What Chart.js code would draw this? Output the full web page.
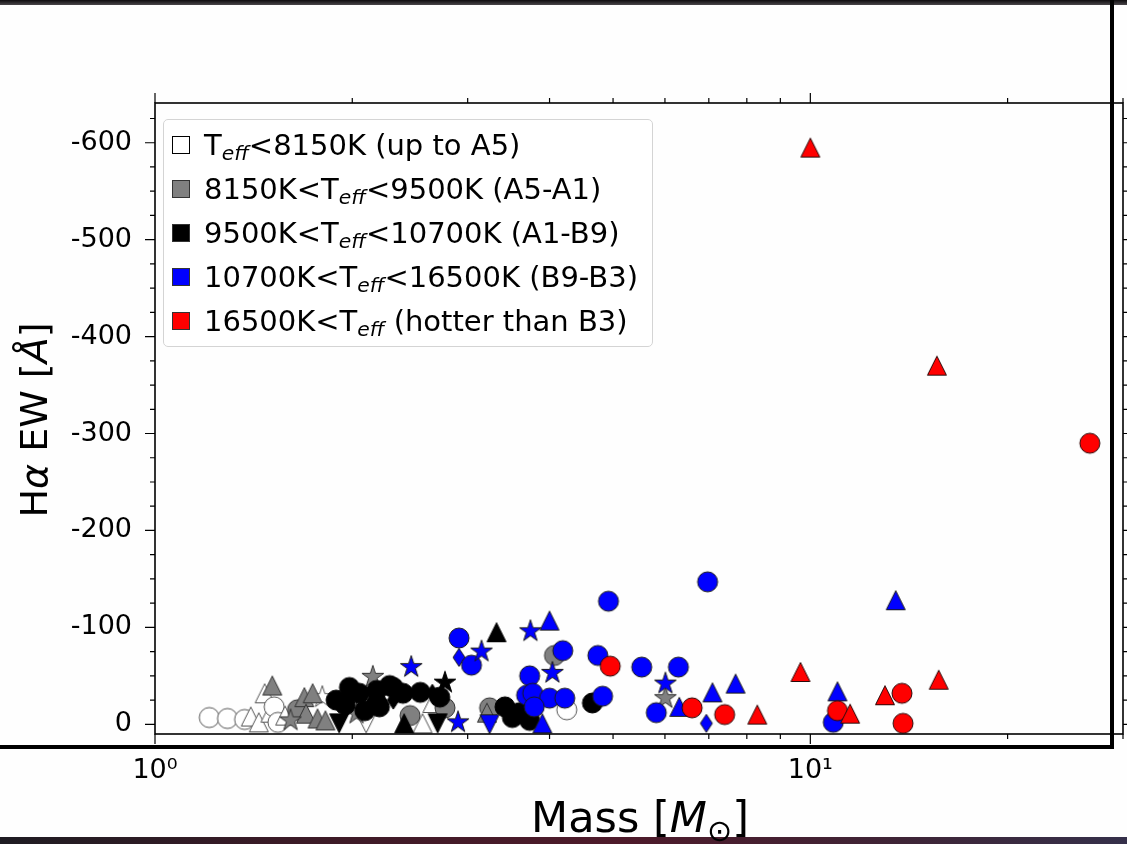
<!DOCTYPE html>
<html>
<head>
<meta charset="utf-8">
<title>H-alpha EW vs mass</title>
<style>
  body { margin: 0; background: #fff; }
  #wrap { position: relative; width: 1127px; height: 844px; overflow: hidden; font-family: 'DejaVu Sans', sans-serif; color: #000; }
  #chart { position: absolute; left: 0; top: 0; }
  #legend { position: absolute; left: 163px; top: 119px; width: 488px; height: 226px;
            border: 1px solid #d4d4d4; border-radius: 5px; background: rgba(255,255,255,0.85); }
  .row { position: absolute; left: 8px; height: 30px; display: flex; align-items: center;
         font-size: 29px; white-space: nowrap; }
  .sq { width: 16px; height: 16px; border: 1px solid #000; margin-right: 14px; flex: none; }
  .row sub { font-size: 0.7em; font-style: italic; vertical-align: -0.25em; line-height: 0; }
  #xtitle { position: absolute; left: 390px; width: 500px; top: 795px; height: 44px; line-height: 44px;
            font-size: 43px; text-align: center; white-space: nowrap; }
  #xtitle sub { font-size: 0.7em; vertical-align: -0.3em; line-height: 0; }
  #ytitle { position: absolute; left: -116px; top: 398px; width: 300px; height: 44px; line-height: 44px;
            font-size: 38px; text-align: center; white-space: nowrap; transform: rotate(-90deg); }
</style>
</head>
<body>
<div id="wrap">
  <canvas id="chart" width="1127" height="844"></canvas>
  <div id="legend"></div>
  <div id="xtitle">Mass [<i>M</i><sub>⊙</sub>]</div>
  <div id="ytitle">H<i>α</i> EW [<i>Å</i>]</div>
</div>

<script src="https://cdn.jsdelivr.net/npm/chart.js"></script>
<script>
  // temperature classes (legend order)
  const classLabels = [
    'T<sub>eff</sub>&lt;8150K (up to A5)',
    '8150K&lt;T<sub>eff</sub>&lt;9500K (A5-A1)',
    '9500K&lt;T<sub>eff</sub>&lt;10700K (A1-B9)',
    '10700K&lt;T<sub>eff</sub>&lt;16500K (B9-B3)',
    '16500K&lt;T<sub>eff</sub> (hotter than B3)'
  ];
  const classColors = ['#ffffff', '#808080', '#000000', '#0000ff', '#ff0000'];
  const classEdges  = ['#555555', '#333333', '#000000', '#1a1a1a', '#2a0a0a'];

  // [mass, EW, marker]   markers: o circle, ^ up, v down, * star, d thin diamond
  const coolStars = [
    [1.21, -7, 'o'], [1.29, -6, 'o'], [1.37, -5, 'o'], [1.40, -8, '^'], [1.44, -2, '^'],
    [1.47, -32, '^'], [1.50, -12, '^'], [1.52, -18, 'o'], [1.54, -2, 'o'], [1.58, -9, '^'],
    [1.80, -28, '*'], [2.10, -1, 'v'], [2.56, -1, '^'], [2.65, -22, '^'], [4.25, -15, 'o']
  ];
  const lateAStars = [
    [1.51, -40, '^'], [1.65, -15, 'o'], [1.69, -28, '^'], [1.74, -32, '^'], [1.70, -11, '^'],
    [1.77, -6, '^'], [1.82, -4, '^'], [1.61, -4, '*'], [2.03, -11, '*'], [2.15, -49, '*'],
    [2.45, -9, 'o'], [2.77, -17, 'o'], [3.24, -17, 'o'], [3.21, -12, '^'], [4.07, -71, 'o'],
    [6.01, -27, '*']
  ];
  const earlyAStars = [
    [3.32, -95, '^'], [2.77, -43, '*'], [4.65, -22, 'o'], [1.98, -38, 'o'], [2.05, -32, 'o'],
    [2.18, -22, 'o'], [2.31, -38, 'o'], [2.39, -32, 'o'], [2.54, -33, 'o'], [2.28, -40, 'o'],
    [2.20, -18, 'o'], [1.95, -20, 'o'], [2.09, -14, 'o'], [1.89, -25, 'o'], [2.18, -35, 'o'],
    [1.91, -1, 'v'], [2.31, -25, 'd'], [2.65, -32, 'd'], [2.72, -28, 'o'], [2.40, -1, '^'],
    [2.70, -1, 'v'], [3.42, -18, 'o'], [3.51, -7, 'o'], [3.60, -12, 'o'], [3.73, -4, 'o']
  ];
  const lateBStars = [
    [6.97, -147, 'o'], [13.5, -128, '^'], [4.92, -127, 'o'], [4.00, -107, '^'], [3.74, -96, '*'],
    [2.91, -89, 'o'], [2.91, -69, 'd'], [3.04, -61, 'o'], [3.15, -75, '*'], [4.19, -76, 'o'],
    [4.74, -71, 'o'], [5.53, -59, 'o'], [6.29, -59, 'o'], [2.46, -59, '*'], [4.04, -53, '*'],
    [3.73, -50, 'o'], [3.69, -30, 'o'], [3.77, -32, 'o'], [4.00, -27, 'o'], [4.22, -27, 'o'],
    [3.79, -18, 'o'], [4.82, -29, 'o'], [6.01, -42, '*'], [5.82, -12, 'o'], [6.31, -18, '^'],
    [7.09, -33, '^'], [7.69, -42, '^'], [6.94, -1, 'd'], [2.90, -2, '*'], [3.24, 0, 'v'],
    [3.90, -1, '^'], [11.0, -34, '^'], [10.84, -2, 'o']
  ];
  const hotStars = [
    [10.0, -595, '^'], [15.6, -370, '^'], [26.7, -290, 'o'], [9.66, -54, '^'], [15.7, -46, '^'],
    [13.8, -32, 'o'], [13.0, -30, '^'], [11.0, -14, 'o'], [11.5, -11, '^'], [13.85, -1, 'o'],
    [8.3, -10, '^'], [4.95, -60, 'o'], [6.6, -17, 'o'], [7.4, -10, 'o']
  ];
  const classPoints = [coolStars, lateAStars, earlyAStars, lateBStars, hotStars];

  // axis ticks
  const xTickVals = [1, 10];
  const xTickLabels = ['10⁰', '10¹'];
  const xMinorVals = [2, 3, 4, 5, 6, 7, 8, 9, 20, 30];
  const yTickVals = [0, -100, -200, -300, -400, -500, -600];

  function makeMarker(shape, fill, edge) {
    const c = document.createElement('canvas');
    c.width = 26; c.height = 26;
    const g = c.getContext('2d');
    g.translate(13, 13);
    g.beginPath();
    if (shape === 'o') {
      g.arc(0, 0, 10, 0, Math.PI * 2);
    } else if (shape === '^') {
      g.moveTo(0, -9.5); g.lineTo(9.5, 9.5); g.lineTo(-9.5, 9.5); g.closePath();
    } else if (shape === 'v') {
      g.moveTo(0, 9.5); g.lineTo(9.5, -9.5); g.lineTo(-9.5, -9.5); g.closePath();
    } else if (shape === 'd') {
      g.moveTo(0, -9); g.lineTo(6, 0); g.lineTo(0, 9); g.lineTo(-6, 0); g.closePath();
    } else if (shape === '*') {
      for (let i = 0; i < 10; i++) {
        const r = i % 2 ? 4.4 : 11.5;
        const a = -Math.PI / 2 + i * Math.PI / 5;
        g.lineTo(r * Math.cos(a), r * Math.sin(a));
      }
      g.closePath();
    }
    g.fillStyle = fill;
    g.fill();
    g.lineWidth = 1;
    g.strokeStyle = edge;
    g.stroke();
    return c;
  }

  const datasets = classPoints.map((pts, i) => {
    const cache = {};
    const marker = s => cache[s] || (cache[s] = makeMarker(s, classColors[i], classEdges[i]));
    return {
      label: classLabels[i],
      data: pts.map(p => ({x: p[0], y: p[1]})),
      pointStyle: pts.map(p => marker(p[2])),
      // the image markers carry their own size; keep the radius small so
      // chart.js does not reserve extra padding around the plot area
      pointRadius: 1,
      pointBorderWidth: 0,
      order: classPoints.length - i
    };
  });

  // html legend
  const legendEl = document.getElementById('legend');
  classLabels.forEach((lab, i) => {
    const row = document.createElement('div');
    row.className = 'row';
    row.style.top = (10 + i * 44) + 'px';
    row.innerHTML = '<span class="sq" style="background:' + classColors[i] + ';border-color:' +
      (i === 0 ? '#000' : '#333') + '"></span><span>' + lab + '</span>';
    legendEl.appendChild(row);
  });

  const frame = {
    id: 'frame',
    beforeDraw(chart) {
      const c = chart.ctx;
      c.save();
      c.fillStyle = '#fefefe';
      c.fillRect(0, 0, chart.width, chart.height);
      c.restore();
    },
    afterDraw(chart) {
      const c = chart.ctx, a = chart.chartArea;
      const xs = chart.scales.x, ys = chart.scales.y;
      c.save();
      c.strokeStyle = '#000';
      c.lineWidth = 1.6;
      c.strokeRect(a.left, a.top, a.right - a.left, a.bottom - a.top);
      c.lineWidth = 1.2;
      c.beginPath();
      yTickVals.forEach(v => {
        const py = ys.getPixelForValue(v);
        c.moveTo(a.left - 10, py); c.lineTo(a.left, py);
        c.moveTo(a.right, py); c.lineTo(a.right + 10, py);
      });
      for (let v = -625; v <= 0; v += 25) {
        if (v % 100 === 0) continue;
        const py = ys.getPixelForValue(v);
        c.moveTo(a.left - 5, py); c.lineTo(a.left, py);
        c.moveTo(a.right, py); c.lineTo(a.right + 5, py);
      }
      xTickVals.forEach(v => {
        const px = xs.getPixelForValue(v);
        c.moveTo(px, a.top - 10); c.lineTo(px, a.top);
        c.moveTo(px, a.bottom); c.lineTo(px, a.bottom + 10);
      });
      xMinorVals.forEach(v => {
        const px = xs.getPixelForValue(v);
        c.moveTo(px, a.top - 5); c.lineTo(px, a.top);
        c.moveTo(px, a.bottom); c.lineTo(px, a.bottom + 5);
      });
      c.stroke();

      // slide frame around the figure
      const topBand = c.createLinearGradient(0, 0, 0, 5);
      topBand.addColorStop(0, '#0e0c0e');
      topBand.addColorStop(1, '#4a464a');
      c.fillStyle = topBand;
      c.fillRect(0, 0, chart.width, 5);
      c.fillStyle = '#000';
      c.fillRect(1110, 0, 4, 749);
      c.fillRect(0, 745, 1114, 4);
      const band = c.createLinearGradient(0, 0, chart.width, 0);
      band.addColorStop(0, '#1e1c22');
      band.addColorStop(0.25, '#3a1a26');
      band.addColorStop(0.55, '#4e1a2a');
      band.addColorStop(0.8, '#3e2436');
      band.addColorStop(1, '#35304a');
      c.fillStyle = band;
      c.fillRect(0, 837, chart.width, 7);
      c.restore();
    }
  };

  const tickFont = {family: 'DejaVu Sans', size: 27};

  const chart = new Chart(document.getElementById('chart'), {
    type: 'scatter',
    data: {datasets: datasets},
    options: {
      responsive: false,
      animation: false,
      events: [],
      layout: {padding: {left: 0, top: 103, right: 2, bottom: 0}},
      plugins: {legend: {display: false}, tooltip: {enabled: false}},
      scales: {
        x: {
          type: 'logarithmic',
          min: 1,
          max: 30,
          grid: {display: false, drawTicks: false},
          border: {display: false},
          afterBuildTicks: s => { s.ticks = xTickVals.map(v => ({value: v})); },
          afterFit: s => { s.height = 110; },
          ticks: {
            font: tickFont, color: '#000', padding: 21, autoSkip: false, maxRotation: 0,
            callback: v => xTickLabels[xTickVals.indexOf(v)] || ''
          }
        },
        y: {
          type: 'linear',
          reverse: true,
          min: -641,
          max: 10,
          grid: {display: false, drawTicks: false},
          border: {display: false},
          afterBuildTicks: s => { s.ticks = yTickVals.map(v => ({value: v})); },
          afterFit: s => { s.width = 155; },
          ticks: {font: tickFont, color: '#000', padding: 23, callback: v => String(v)}
        }
      }
    },
    plugins: [frame]
  });
</script>
</body>
</html>
